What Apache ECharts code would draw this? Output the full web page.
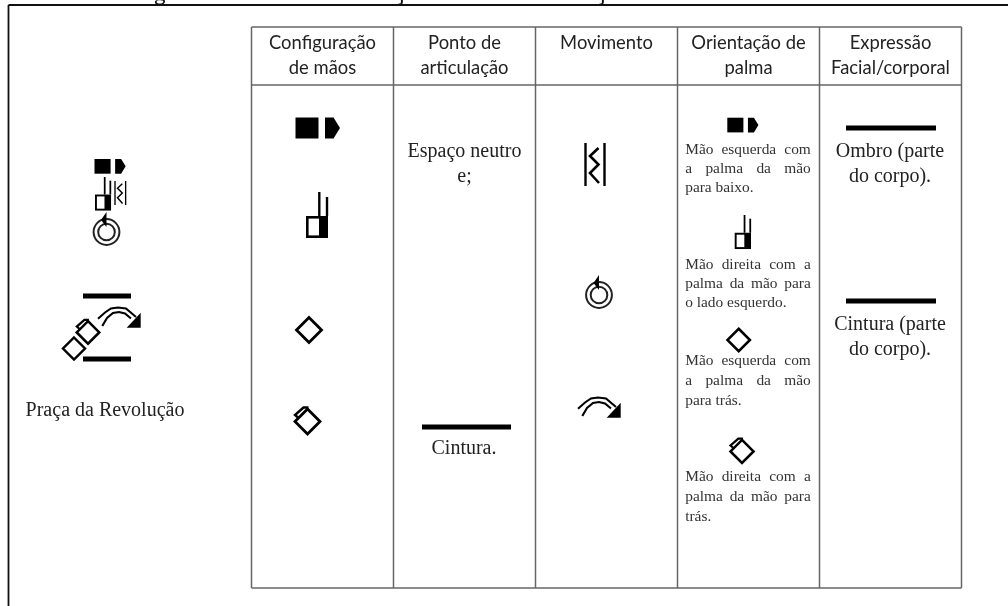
<!DOCTYPE html>
<html>
<head>
<meta charset="utf-8">
<style>
html,body{margin:0;padding:0;background:#fff}
#c{width:1008px;height:606px;filter:blur(0.45px)}
</style>
<script src="https://cdn.jsdelivr.net/npm/echarts@6/dist/echarts.min.js"></script>
</head>
<body>
<div id="c"></div>
<script>
// ---- content ----
const columnHeaders = [
  ["Configuração","de mãos"],
  ["Ponto de","articulação"],
  ["Movimento"],
  ["Orientação de","palma"],
  ["Expressão","Facial/corporal"]
];
const signName = "Praça da Revolução";
const articulationCells = [["Espaço neutro","e;"],["Cintura."]];
const bodyCells = [["Ombro (parte","do corpo)."],["Cintura (parte","do corpo)."]];
const palmNotes = [
  ["Mão esquerda com","a palma da mão","para baixo."],
  ["Mão direita com a","palma da mão para","o lado esquerdo."],
  ["Mão esquerda com","a palma da mão","para trás."],
  ["Mão direita com a","palma da mão para","trás."]
];
const clippedTitleLetters = ["g","j","ç"];

// ---- table grid ----
const columnEdges = [251.5,393.5,535.5,677.5,819.5,961.5];
const rowEdges = [27,85,588];

// ---- placements: [x, y, scale, glyph] ----
const signSymbols = [
  [94.5,159,0.70,"palmDown"],[95,177,0.73,"handSide"],[115,181,0.56,"zigzag"],[106.5,232,1,"circle"],
  [74,348.5,0.88,"diamond"],[88,332,0.9,"diamondFold"],[98,306,1,"arc"]
];
const handSymbols = [
  [295.5,117.5,1,"palmDown"],[306,192,1,"handSide"],[309,330,1,"diamond"],[307.5,421,1,"diamondFold"]
];
const movementSymbols = [[585.5,143,1,"zigzag"],[599,295,1,"circle"],[578,396,1,"arc"]];
const palmSymbols = [
  [727.3,117.7,0.70,"palmDown"],[734.7,215,0.74,"handSide"],[738.7,340,0.9,"diamond"],[742,451,0.92,"diamondFold"]
];
// body-part bars: [x0, x1, y]
const bars = [[83,131,296],[83,131,359],[422,511,427],[846,936,128],[846,936,301]];

const chart = echarts.init(document.getElementById('c'), null, {renderer:'canvas'});
const INK = '#000';

function poly(points, fill){ return {type:'polygon',shape:{points},style:{fill:fill||INK,stroke:null}}; }
function line(points,w,smooth){ return {type:'polyline',shape:{points,smooth:smooth||0},style:{fill:null,stroke:INK,lineWidth:w||2,lineJoin:'miter'}}; }
function rect(x,y,w,h,fill){ return {type:'rect',shape:{x,y,width:w,height:h},style:{fill:fill||INK,stroke:null}}; }

const glyphs = {
  palmDown: () => [ rect(0,0,23,21), poly([[29.5,0],[38,0],[44.5,10.5],[38,21],[29.5,21]]) ],
  handSide: () => [
    line([[13.3,0],[13.3,24]],2.4), line([[21,5],[21,24]],2.4),
    rect(0,24,22,22), rect(2.6,26.6,10.4,16.8,'#fff')
  ],
  diamond: () => [ {type:'polygon',shape:{points:[[0,-12.5],[12.5,0],[0,12.5],[-12.5,0]]},style:{fill:'#fff',stroke:INK,lineWidth:2.8,lineJoin:'miter'}} ],
  diamondFold: () => [
    {type:'polygon',shape:{points:[[0,-12],[12.5,0.5],[0,13],[-12.5,0.5]]},style:{fill:'#fff',stroke:INK,lineWidth:2.8,lineJoin:'miter'}},
    line([[-9,-3],[-12.5,-6],[-4,-13.5],[1,-13.5]],2.4)
  ],
  zigzag: () => [
    line([[0,0],[0,43]],2.4), line([[19,0],[19,43]],2.4),
    line([[13,5],[4.5,13],[13,21.5],[4.5,30],[13.5,40]],2.6)
  ],
  circle: () => [
    {type:'circle',shape:{cx:0,cy:0,r:12.9},style:{fill:'#fff',stroke:'#222',lineWidth:2}},
    {type:'circle',shape:{cx:0,cy:0,r:8.3},style:{fill:'#fff',stroke:'#222',lineWidth:2}},
    poly([[0,-20],[-5.5,-12],[0,-5]])
  ],
  arc: () => [
    line([[0,12.7],[7,6.5],[13,2.5],[20,1.5],[28,2.5],[38,11]],2.1),
    line([[4.3,20],[9,12],[15,7],[21,6],[27,7.5],[33,12.5]],2.1),
    poly([[42.7,6.7],[42.7,21.7],[28.7,21.7]])
  ]
};

// ---- text items ----
const SERIF='"Liberation Serif",serif', SANS='Lato,sans-serif';
const textItems = [];
function addText(str,x,y,font,size,color,align,weight){ textItems.push({str,x,y,font,size,color,align:align||'center',weight:weight||'normal'}); }

const colCenters = columnEdges.slice(0,-1).map((e,i)=>(e+columnEdges[i+1])/2);
columnHeaders.forEach((lines,i)=>lines.forEach((s,j)=>addText(s,colCenters[i],43.5+j*25,SANS,18.4,'#222')));
addText(signName,105,411,SERIF,20,'#222');
articulationCells[0].forEach((s,j)=>addText(s,464.5,152+j*25,SERIF,20,'#222'));
addText(articulationCells[1][0],464,449,SERIF,20,'#222');
bodyCells[0].forEach((s,j)=>addText(s,890,152+j*24.7,SERIF,20,'#222'));
bodyCells[1].forEach((s,j)=>addText(s,890,325+j*24.7,SERIF,20,'#222'));

// justified notes: first lines stretch across the cell, last one stays left
const noteLeft=685.2, noteRight=810.8, noteTops=[150,265,361,477], noteStep=[19,19.2,19.8,19.8];
const NOTE_SIZE=15.4;
const measure=document.createElement('canvas').getContext('2d');
palmNotes.forEach((lines,b)=>lines.forEach((s,j)=>{
  const y=noteTops[b]+j*noteStep[b], font=SERIF;
  measure.font=NOTE_SIZE+'px "Liberation Serif"';
  if(j===lines.length-1){ addText(s,noteLeft,y,font,NOTE_SIZE,'#333','left'); return; }
  const words=s.split(' ');
  const total=words.reduce((a,w)=>a+measure.measureText(w).width,0);
  const gap=(noteRight-noteLeft-total)/(words.length-1);
  let x=noteLeft;
  words.forEach(w=>{ addText(w,x,y,font,NOTE_SIZE,'#333','left'); x+=measure.measureText(w).width+gap; });
}));
// title cut by the top edge of the picture: only descenders are visible
[[160,0],[402,1],[603,1]].forEach(p=>addText(clippedTitleLetters[p[1]],p[0],-6,SANS,22,'#111'));

const symbolData = signSymbols.concat(handSymbols,movementSymbols,palmSymbols);

const ruleSegments = [];
columnEdges.forEach(x=>ruleSegments.push([x,rowEdges[0],x,rowEdges[2]]));
rowEdges.forEach(y=>ruleSegments.push([columnEdges[0],y,columnEdges[5],y]));

const frameSegments=[[8.5,5,8.5,606],[8.5,5,1008,5]];

chart.setOption({
  animation:false,
  backgroundColor:'#fff',
  grid:{left:0,right:0,top:0,bottom:0},
  xAxis:{type:'value',min:0,max:1008,show:false},
  yAxis:{type:'value',min:0,max:606,inverse:true,show:false},
  tooltip:{show:false},
  series:[
    {type:'custom',silent:true,clip:false,coordinateSystem:'cartesian2d',data:frameSegments,
     renderItem(p,api){const a=api.coord([api.value(0),api.value(1)]),b=api.coord([api.value(2),api.value(3)]);
       return {type:'line',shape:{x1:a[0],y1:a[1],x2:b[0],y2:b[1]},style:{stroke:'#111',lineWidth:1.8}};}},
    {type:'custom',silent:true,clip:false,coordinateSystem:'cartesian2d',data:ruleSegments,
     renderItem(p,api){const a=api.coord([api.value(0),api.value(1)]),b=api.coord([api.value(2),api.value(3)]);
       return {type:'line',shape:{x1:a[0],y1:a[1],x2:b[0],y2:b[1]},style:{stroke:'#666',lineWidth:1.5}};}},
    {type:'custom',silent:true,clip:false,coordinateSystem:'cartesian2d',data:bars,
     renderItem(p,api){const a=api.coord([api.value(0),api.value(2)]),b=api.coord([api.value(1),api.value(2)]);
       return {type:'rect',shape:{x:a[0],y:a[1]-2.4,width:b[0]-a[0],height:4.8},style:{fill:INK}};}},
    {type:'custom',silent:true,clip:false,coordinateSystem:'cartesian2d',
     data:symbolData.map(d=>d.slice(0,3)),
     renderItem(p,api){const d=symbolData[p.dataIndex],c=api.coord([d[0],d[1]]);
       return {type:'group',x:c[0],y:c[1],scaleX:d[2],scaleY:d[2],children:glyphs[d[3]]()};}},
    {type:'custom',silent:true,clip:false,coordinateSystem:'cartesian2d',
     data:textItems.map(t=>[t.x,t.y]),
     renderItem(p,api){const t=textItems[p.dataIndex],c=api.coord([t.x,t.y]);
       return {type:'text',x:c[0],y:c[1],style:{text:t.str,fill:t.color,font:t.weight+' '+t.size+'px '+t.font,align:t.align,verticalAlign:'middle'}};}}
  ]
});
</script>
</body>
</html>
